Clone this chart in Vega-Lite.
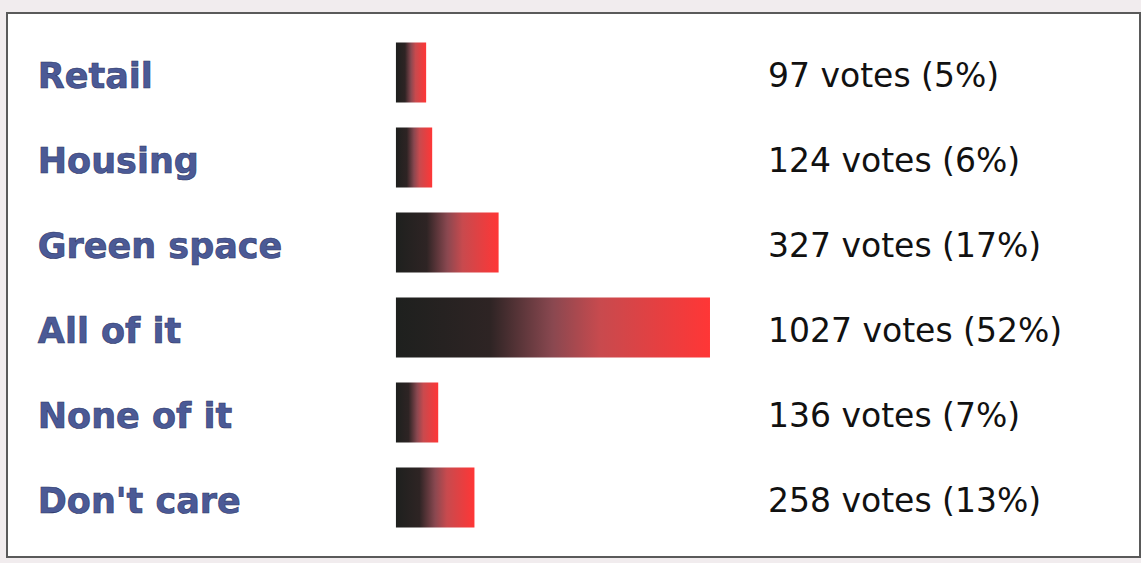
{
  "$schema": "https://vega.github.io/schema/vega-lite/v6.json",
  "width": 1133,
  "height": 544,
  "autosize": {"type": "none"},
  "padding": {"left": 7, "top": 13, "right": 1, "bottom": 6},
  "background": "#f1ecee",
  "config": {"view": {"fill": "white", "stroke": "#5a5a5a", "strokeWidth": 2}},
  "data": {
    "values": [
      {"option": "Retail", "votes": 97, "pct": 5, "label": "97 votes (5%)"},
      {"option": "Housing", "votes": 124, "pct": 6, "label": "124 votes (6%)"},
      {"option": "Green space", "votes": 327, "pct": 17, "label": "327 votes (17%)"},
      {"option": "All of it", "votes": 1027, "pct": 52, "label": "1027 votes (52%)"},
      {"option": "None of it", "votes": 136, "pct": 7, "label": "136 votes (7%)"},
      {"option": "Don't care", "votes": 258, "pct": 13, "label": "258 votes (13%)"}
    ]
  },
  "encoding": {
    "y": {
      "field": "option",
      "type": "nominal",
      "sort": null,
      "axis": null,
      "scale": {"paddingInner": 0.294, "paddingOuter": 0.347}
    }
  },
  "layer": [
    {
      "mark": {
        "type": "bar",
        "color": {
          "gradient": "linear",
          "x1": 0, "x2": 1, "y1": 0, "y2": 0,
          "stops": [
            {"offset": 0, "color": "#1e201e"},
            {"offset": 0.3, "color": "#2e2424"},
            {"offset": 0.5, "color": "#8a4850"},
            {"offset": 0.65, "color": "#c84a4e"},
            {"offset": 1, "color": "#ff3636"}
          ]
        }
      },
      "encoding": {
        "x": {"field": "pct", "type": "quantitative", "axis": null, "scale": {"domain": [-64.4, 123.2], "nice": false, "zero": false}},
        "x2": {"datum": 0}
      }
    },
    {
      "mark": {"type": "text", "align": "left", "baseline": "middle", "dy": 4, "font": "DejaVu Sans", "fontWeight": "bold", "fontSize": 35, "fill": "#4b5a96", "stroke": "#2c3566", "strokeWidth": 0.6},
      "encoding": {
        "x": {"datum": -59.3, "type": "quantitative"},
        "text": {"field": "option"}
      }
    },
    {
      "mark": {"type": "text", "align": "left", "baseline": "middle", "dy": 4, "font": "DejaVu Sans", "fontSize": 33, "color": "#111111"},
      "encoding": {
        "x": {"datum": 61.6, "type": "quantitative"},
        "text": {"field": "label"}
      }
    }
  ]
}
